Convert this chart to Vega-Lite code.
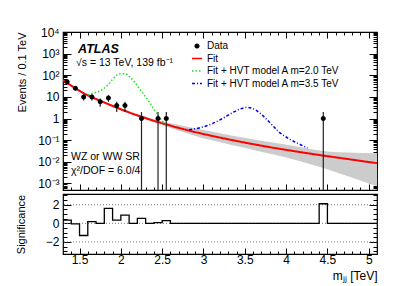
{
  "$schema": "https://vega.github.io/schema/vega-lite/v6.json",
  "padding": {"left": 14, "top": 25, "right": 5, "bottom": 5},
  "spacing": 4,
  "bounds": "flush",
  "config": {
    "font": "Liberation Sans",
    "concat": {"spacing": 4},
    "view": {"stroke": "black", "strokeWidth": 1.2},
    "axis": {"domain": false, "grid": false, "tickColor": "black", "labelColor": "black", "titleColor": "black", "labelFontSize": 12, "titleFontSize": 11, "titleFontWeight": "normal", "labelOverlap": false, "labelFlush": false, "tickWidth": 1},
    "legend": {"labelFontSize": 10, "labelFont": "Liberation Sans", "labelColor": "black", "symbolStrokeWidth": 1.6, "rowPadding": 1.5, "labelOffset": 4}
  },
  "datasets": {
    "fit": [
      {"m": 1.30, "ev": 57.5}, {"m": 1.35, "ev": 43.7}, {"m": 1.45, "ev": 25.1}, {"m": 1.55, "ev": 14.8},
      {"m": 1.655, "ev": 9.55}, {"m": 1.757, "ev": 6.46}, {"m": 1.858, "ev": 4.47}, {"m": 1.96, "ev": 3.09},
      {"m": 2.06, "ev": 2.19}, {"m": 2.16, "ev": 1.58}, {"m": 2.264, "ev": 1.17}, {"m": 2.365, "ev": 0.871},
      {"m": 2.467, "ev": 0.661}, {"m": 2.568, "ev": 0.513}, {"m": 2.67, "ev": 0.398}, {"m": 2.77, "ev": 0.316},
      {"m": 2.974, "ev": 0.204}, {"m": 3.177, "ev": 0.138}, {"m": 3.38, "ev": 0.0955}, {"m": 3.583, "ev": 0.0676},
      {"m": 3.786, "ev": 0.049}, {"m": 3.99, "ev": 0.0363}, {"m": 4.19, "ev": 0.0275}, {"m": 4.394, "ev": 0.0209},
      {"m": 4.597, "ev": 0.0162}, {"m": 4.8, "ev": 0.0126}, {"m": 5.0, "ev": 0.00977}, {"m": 5.1, "ev": 0.00871}
    ],
    "band": [
      {"m": 1.30, "lo": 51.3, "hi": 64.6}, {"m": 1.401, "lo": 29.5, "hi": 37.2}, {"m": 1.554, "lo": 13.2, "hi": 16.6},
      {"m": 1.655, "lo": 8.5, "hi": 10.7}, {"m": 1.757, "lo": 5.75, "hi": 7.24}, {"m": 1.959, "lo": 2.75, "hi": 3.47},
      {"m": 2.213, "lo": 1.19, "hi": 1.57}, {"m": 2.467, "lo": 0.55, "hi": 0.794}, {"m": 2.72, "lo": 0.257, "hi": 0.49},
      {"m": 2.974, "lo": 0.129, "hi": 0.309}, {"m": 3.228, "lo": 0.0759, "hi": 0.2}, {"m": 3.481, "lo": 0.0457, "hi": 0.132},
      {"m": 3.735, "lo": 0.0269, "hi": 0.0891}, {"m": 3.989, "lo": 0.0162, "hi": 0.0631}, {"m": 4.242, "lo": 0.00891, "hi": 0.0427},
      {"m": 4.496, "lo": 0.00457, "hi": 0.0302}, {"m": 4.749, "lo": 0.00214, "hi": 0.0269}, {"m": 5.104, "lo": 0.00074, "hi": 0.0251}
    ],
    "hvt2": [
      {"m": 1.604, "ev": 12.0}, {"m": 1.623, "ev": 13.4}, {"m": 1.696, "ev": 16.1}, {"m": 1.776, "ev": 21.5},
      {"m": 1.837, "ev": 34.3}, {"m": 1.898, "ev": 63.4}, {"m": 1.945, "ev": 97.5}, {"m": 1.998, "ev": 117},
      {"m": 2.051, "ev": 117}, {"m": 2.099, "ev": 90.8}, {"m": 2.159, "ev": 52.8}, {"m": 2.22, "ev": 25.7},
      {"m": 2.281, "ev": 12.5}, {"m": 2.342, "ev": 6.08}, {"m": 2.402, "ev": 2.65}, {"m": 2.442, "ev": 1.55},
      {"m": 2.503, "ev": 0.75}, {"m": 2.543, "ev": 0.54}
    ],
    "hvt35": [
      {"m": 2.826, "ev": 0.305}, {"m": 2.947, "ev": 0.366}, {"m": 3.108, "ev": 0.585}, {"m": 3.229, "ev": 1.0},
      {"m": 3.35, "ev": 1.85}, {"m": 3.43, "ev": 2.65}, {"m": 3.532, "ev": 3.3}, {"m": 3.632, "ev": 2.47},
      {"m": 3.734, "ev": 1.2}, {"m": 3.834, "ev": 0.49}, {"m": 3.915, "ev": 0.238}, {"m": 4.036, "ev": 0.116},
      {"m": 4.157, "ev": 0.067}, {"m": 4.258, "ev": 0.0437}
    ],
    "obs": [
      {"m": 1.35, "n": 50, "lo": 42.9, "hi": 57.1}, {"m": 1.45, "n": 25, "lo": 20, "hi": 30},
      {"m": 1.55, "n": 10, "lo": 6.84, "hi": 13.16}, {"m": 1.65, "n": 10, "lo": 6.84, "hi": 13.16},
      {"m": 1.75, "n": 6, "lo": 3.55, "hi": 8.45}, {"m": 1.85, "n": 9, "lo": 6, "hi": 12},
      {"m": 1.95, "n": 4, "lo": 2, "hi": 6}, {"m": 2.05, "n": 4, "lo": 2, "hi": 6},
      {"m": 2.25, "n": 1, "lo": 0.0005, "hi": 2}, {"m": 2.45, "n": 1, "lo": 0.0005, "hi": 2},
      {"m": 2.55, "n": 1, "lo": 0.0005, "hi": 2}, {"m": 4.45, "n": 1, "lo": 0.0005, "hi": 2}
    ],
    "sig": [
      {"m": 1.3, "s": 0.35}, {"m": 1.4, "s": -0.07}, {"m": 1.5, "s": -1.31}, {"m": 1.6, "s": 0.18},
      {"m": 1.7, "s": 0.0}, {"m": 1.8, "s": 1.6}, {"m": 1.9, "s": 0.35}, {"m": 2.0, "s": 0.88},
      {"m": 2.1, "s": 0.0}, {"m": 2.2, "s": 0.53}, {"m": 2.3, "s": 0.0}, {"m": 2.4, "s": 0.07},
      {"m": 2.5, "s": 0.28}, {"m": 2.6, "s": 0.0}, {"m": 4.4, "s": 2.1}, {"m": 4.5, "s": 0.0}, {"m": 5.1, "s": 0.0}
    ],
    "refs": [{"v": 2}, {"v": 0}, {"v": -2}]
  },
  "vconcat": [
    {
      "width": 314,
      "height": 158,
      "resolve": {"axis": {"x": "independent", "y": "independent"}},
      "layer": [
        {
          "data": {"name": "band"},
          "mark": {"type": "area", "color": "#cccccc", "interpolate": "monotone", "clip": true},
          "encoding": {
            "x": {"field": "m", "type": "quantitative", "scale": {"domain": [1.3, 5.1], "nice": false, "zero": false},
              "axis": {"orient": "bottom", "title": null, "labels": false,
                "values": [1.4,1.5,1.6,1.7,1.8,1.9,2,2.1,2.2,2.3,2.4,2.5,2.6,2.7,2.8,2.9,3,3.1,3.2,3.3,3.4,3.5,3.6,3.7,3.8,3.9,4,4.1,4.2,4.3,4.4,4.5,4.6,4.7,4.8,4.9,5],
                "tickSize": {"condition": {"test": "abs(datum.value*2 - round(datum.value*2)) < 0.01", "value": -6}, "value": -3}}},
            "y": {"field": "lo", "type": "quantitative", "scale": {"type": "log", "domain": [0.0005, 10000], "nice": false},
              "axis": {"orient": "left", "title": "Events / 0.1 TeV", "titleAnchor": "end", "titlePadding": 10, "labelPadding": 12,
                "values": [0.0005,0.0006,0.0007,0.0008,0.0009,0.001,0.002,0.003,0.004,0.005,0.006,0.007,0.008,0.009,0.01,0.02,0.03,0.04,0.05,0.06,0.07,0.08,0.09,0.1,0.2,0.3,0.4,0.5,0.6,0.7,0.8,0.9,1,2,3,4,5,6,7,8,9,10,20,30,40,50,60,70,80,90,100,200,300,400,500,600,700,800,900,1000,2000,3000,4000,5000,6000,7000,8000,9000,10000],
                "labelExpr": "datum.value == 10000 ? '10⁴' : datum.value == 1000 ? '10³' : datum.value == 100 ? '10²' : datum.value == 10 ? '10' : datum.value == 1 ? '1' : datum.value == 0.1 ? '10⁻¹' : datum.value == 0.01 ? '10⁻²' : datum.value == 0.001 ? '10⁻³' : ''",
                "tickSize": {"condition": {"test": "abs(log(datum.value)/LN10 - round(log(datum.value)/LN10)) < 0.001", "value": -8}, "value": -4}}},
            "y2": {"field": "hi"}
          }
        },
        {
          "data": {"name": "fit"},
          "mark": {"type": "line", "strokeWidth": 2, "interpolate": "monotone", "clip": true},
          "encoding": {
            "x": {"field": "m", "type": "quantitative",
              "axis": {"orient": "top", "title": null, "labels": false,
                "values": [1.4,1.5,1.6,1.7,1.8,1.9,2,2.1,2.2,2.3,2.4,2.5,2.6,2.7,2.8,2.9,3,3.1,3.2,3.3,3.4,3.5,3.6,3.7,3.8,3.9,4,4.1,4.2,4.3,4.4,4.5,4.6,4.7,4.8,4.9,5],
                "tickSize": {"condition": {"test": "abs(datum.value*2 - round(datum.value*2)) < 0.01", "value": -6}, "value": -3}}},
            "y": {"field": "ev", "type": "quantitative",
              "axis": {"orient": "right", "title": null, "labels": false,
                "values": [0.0005,0.0006,0.0007,0.0008,0.0009,0.001,0.002,0.003,0.004,0.005,0.006,0.007,0.008,0.009,0.01,0.02,0.03,0.04,0.05,0.06,0.07,0.08,0.09,0.1,0.2,0.3,0.4,0.5,0.6,0.7,0.8,0.9,1,2,3,4,5,6,7,8,9,10,20,30,40,50,60,70,80,90,100,200,300,400,500,600,700,800,900,1000,2000,3000,4000,5000,6000,7000,8000,9000,10000],
                "tickSize": {"condition": {"test": "abs(log(datum.value)/LN10 - round(log(datum.value)/LN10)) < 0.001", "value": -8}, "value": -4}}},
            "color": {"datum": "Fit", "type": "nominal",
              "scale": {"domain": ["Data", "Fit", "Fit + HVT model A m=2.0 TeV", "Fit + HVT model A m=3.5 TeV"], "range": ["black", "#ff0000", "#22dd22", "#0000ff"]},
              "legend": {"orient": "none", "legendX": 128, "legendY": 8, "title": null}},
            "strokeDash": {"datum": "Fit", "type": "nominal",
              "scale": {"domain": ["Data", "Fit", "Fit + HVT model A m=2.0 TeV", "Fit + HVT model A m=3.5 TeV"], "range": [[1, 0], [1, 0], [1.5, 2], [3, 2, 1, 2]]},
              "legend": {"orient": "none", "legendX": 128, "legendY": 8, "title": null}}
          }
        },
        {
          "data": {"name": "hvt2"},
          "mark": {"type": "line", "strokeWidth": 1.5, "interpolate": "monotone", "clip": true},
          "encoding": {
            "x": {"field": "m", "type": "quantitative", "axis": null},
            "y": {"field": "ev", "type": "quantitative", "axis": null},
            "color": {"datum": "Fit + HVT model A m=2.0 TeV", "type": "nominal"},
            "strokeDash": {"datum": "Fit + HVT model A m=2.0 TeV", "type": "nominal"}
          }
        },
        {
          "data": {"name": "hvt35"},
          "mark": {"type": "line", "strokeWidth": 1.5, "interpolate": "monotone", "clip": true},
          "encoding": {
            "x": {"field": "m", "type": "quantitative", "axis": null},
            "y": {"field": "ev", "type": "quantitative", "axis": null},
            "color": {"datum": "Fit + HVT model A m=3.5 TeV", "type": "nominal"},
            "strokeDash": {"datum": "Fit + HVT model A m=3.5 TeV", "type": "nominal"}
          }
        },
        {
          "data": {"name": "obs"},
          "mark": {"type": "rule", "color": "#222222", "strokeWidth": 1.2, "clip": true},
          "encoding": {
            "x": {"field": "m", "type": "quantitative", "axis": null},
            "y": {"field": "lo", "type": "quantitative", "axis": null},
            "y2": {"field": "hi"}
          }
        },
        {
          "data": {"name": "obs"},
          "mark": {"type": "point", "filled": true, "opacity": 1, "size": 204, "clip": true},
          "encoding": {
            "x": {"field": "m", "type": "quantitative", "axis": null},
            "y": {"field": "n", "type": "quantitative", "axis": null},
            "color": {"datum": "Data", "type": "nominal"},
            "shape": {"datum": "Data", "type": "nominal",
              "scale": {"domain": ["Data", "Fit", "Fit + HVT model A m=2.0 TeV", "Fit + HVT model A m=3.5 TeV"], "range": ["M0,-0.35A0.35,0.35 0 1,1 0,0.35A0.35,0.35 0 1,1 0,-0.35Z", "stroke", "stroke", "stroke"]},
              "legend": {"orient": "none", "legendX": 128, "legendY": 8, "title": null}}
          }
        },
        {
          "data": {"values": [{}]},
          "mark": {"type": "text", "text": "ATLAS", "align": "left", "baseline": "middle", "fontSize": 12.5, "fontWeight": "bold", "fontStyle": "italic", "color": "black"},
          "encoding": {"x": {"datum": 1.482, "type": "quantitative", "axis": null}, "y": {"datum": 1700, "type": "quantitative", "axis": null}}
        },
        {
          "data": {"values": [{}]},
          "mark": {"type": "text", "text": "√s = 13 TeV, 139 fb⁻¹", "align": "left", "baseline": "middle", "fontSize": 10.5, "color": "black"},
          "encoding": {"x": {"datum": 1.457, "type": "quantitative", "axis": null}, "y": {"datum": 380, "type": "quantitative", "axis": null}}
        },
        {
          "data": {"values": [{}]},
          "mark": {"type": "text", "text": "WZ or WW SR", "align": "left", "baseline": "middle", "fontSize": 10.5, "color": "black"},
          "encoding": {"x": {"datum": 1.397, "type": "quantitative", "axis": null}, "y": {"datum": 0.017, "type": "quantitative", "axis": null}}
        },
        {
          "data": {"values": [{}]},
          "mark": {"type": "text", "text": "χ²/DOF = 6.0/4", "align": "left", "baseline": "middle", "fontSize": 10.5, "color": "black"},
          "encoding": {"x": {"datum": 1.397, "type": "quantitative", "axis": null}, "y": {"datum": 0.0037, "type": "quantitative", "axis": null}}
        }
      ]
    },
    {
      "width": 314,
      "height": 60,
      "resolve": {"axis": {"x": "independent", "y": "independent"}},
      "layer": [
        {
          "data": {"name": "refs"},
          "mark": {"type": "rule", "color": "#777777", "strokeDash": [1, 2], "strokeWidth": 1},
          "encoding": {
            "y": {"field": "v", "type": "quantitative", "scale": {"domain": [-3.3, 3.15], "nice": false, "zero": false},
              "axis": {"orient": "left", "title": "Significance", "titlePadding": 19, "labelPadding": 12,
                "values": [-3, -2.5, -2, -1.5, -1, -0.5, 0, 0.5, 1, 1.5, 2, 2.5, 3],
                "labelExpr": "datum.value == 2 ? '2' : datum.value == 0 ? '0' : datum.value == -2 ? '−2' : ''",
                "tickSize": {"condition": {"test": "datum.value % 2 == 0", "value": -8}, "value": -4}}}
          }
        },
        {
          "data": {"name": "sig"},
          "mark": {"type": "line", "interpolate": "step-after", "color": "black", "strokeWidth": 1.3, "clip": true},
          "encoding": {
            "x": {"field": "m", "type": "quantitative", "scale": {"domain": [1.3, 5.1], "nice": false, "zero": false},
              "axis": {"orient": "bottom", "title": "mⱼⱼ [TeV]", "titleAnchor": "end", "titleFontSize": 12, "titlePadding": 2, "labelPadding": 6,
                "values": [1.4,1.5,1.6,1.7,1.8,1.9,2,2.1,2.2,2.3,2.4,2.5,2.6,2.7,2.8,2.9,3,3.1,3.2,3.3,3.4,3.5,3.6,3.7,3.8,3.9,4,4.1,4.2,4.3,4.4,4.5,4.6,4.7,4.8,4.9,5],
                "labelExpr": "abs(datum.value*2 - round(datum.value*2)) < 0.01 ? (abs(datum.value - round(datum.value)) < 0.01 ? format(datum.value, 'd') : format(datum.value, '.1f')) : ''",
                "tickSize": {"condition": {"test": "abs(datum.value*2 - round(datum.value*2)) < 0.01", "value": -6}, "value": -3}}},
            "y": {"field": "s", "type": "quantitative",
              "axis": {"orient": "right", "title": null, "labels": false,
                "values": [-3, -2.5, -2, -1.5, -1, -0.5, 0, 0.5, 1, 1.5, 2, 2.5, 3],
                "tickSize": {"condition": {"test": "datum.value % 2 == 0", "value": -8}, "value": -4}}}
          }
        }
      ]
    }
  ]
}
